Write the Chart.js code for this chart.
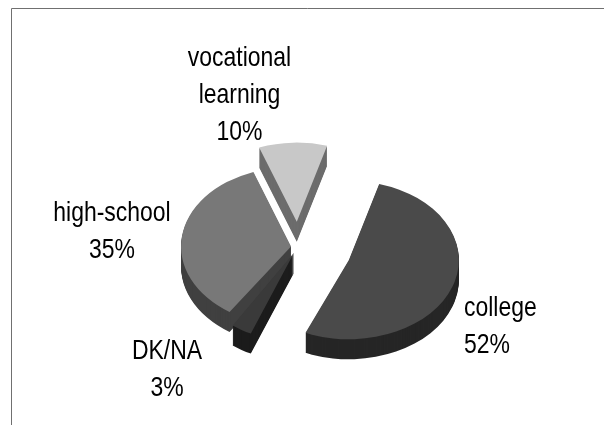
<!DOCTYPE html>
<html>
<head>
<meta charset="utf-8">
<style>html,body{margin:0;padding:0;background:#fff}canvas{display:block}</style>
<script src="https://cdn.jsdelivr.net/npm/chart.js@4"></script>
</head>
<body>
<canvas id="c" width="604" height="425"></canvas>
<script>
const categories = ['college', 'DK/NA', 'high-school', 'vocational learning'];
const values = [52, 3, 35, 10];
const topColors = ['#4a4a4a', '#3a3a3a', '#787878', '#c8c8c8'];
const sideColors = ['#262626', '#1c1c1c', '#404040', '#6c6c6c'];
const explode = [54, 8, 7, 35];

const TILT = [0.72, 0.8, 0.72, 0.72];
const DEPTH = 20;
const DRAW_ORDER = [3, 2, 1, 0];
const FONT = '28px "Liberation Sans", Arial, sans-serif';
const TEXT_SQUEEZE = 0.82;
const LINE_GAP = 37;
const LABELS = [
  {x: 464, y: 316, align: 'left', lines: ['college']},
  {x: 167, y: 359, align: 'center', lines: ['DK/NA']},
  {x: 112, y: 221, align: 'center', lines: ['high-school']},
  {x: 239.5, y: 66, align: 'center', lines: ['vocational', 'learning']}
];

const pie3d = {
  id: 'pie3d',
  beforeDraw(chart) {
    const ctx = chart.ctx;
    ctx.save();
    ctx.strokeStyle = '#707070';
    ctx.lineWidth = 1;
    ctx.beginPath();
    ctx.moveTo(11.5, 425);
    ctx.lineTo(11.5, 8.5);
    ctx.lineTo(604, 8.5);
    ctx.stroke();
    ctx.restore();
  },
  beforeDatasetsDraw(chart) {
    const ctx = chart.ctx;
    const arcs = chart.getDatasetMeta(0).data;
    const shape = (arc, color) => {
      const saved = arc.options;
      arc.options = {
        backgroundColor: color, borderColor: color, borderWidth: 0, borderRadius: 0,
        spacing: 0, circular: true, borderAlign: 'center', offset: 0
      };
      arc.draw(ctx);
      arc.options = saved;
    };
    DRAW_ORDER.forEach(i => {
      const arc = arcs[i];
      const mid = (arc.startAngle + arc.endAngle) / 2;
      const draw = (dy, color) => {
        ctx.save();
        ctx.translate(arc.x, arc.y + dy);
        ctx.scale(1, TILT[i]);
        ctx.translate(Math.cos(mid) * explode[i], Math.sin(mid) * explode[i]);
        ctx.translate(-arc.x, -arc.y);
        shape(arc, color);
        ctx.restore();
      };
      for (let d = DEPTH; d > 0; d--) draw(d, sideColors[i]);
      draw(0, topColors[i]);
    });
    return false;
  },
  afterDraw(chart) {
    const ctx = chart.ctx;
    ctx.save();
    ctx.font = FONT;
    ctx.fillStyle = '#000';
    ctx.textBaseline = 'alphabetic';
    LABELS.forEach((l, i) => {
      ctx.textAlign = l.align;
      const all = l.lines.concat([values[i] + '%']);
      all.forEach((t, k) => {
        ctx.save();
        ctx.translate(l.x, l.y + k * LINE_GAP);
        ctx.scale(TEXT_SQUEEZE, 1);
        ctx.fillText(t, 0, 0);
        ctx.restore();
      });
    });
    ctx.restore();
  }
};

new Chart(document.getElementById('c'), {
  type: 'pie',
  data: {
    labels: categories,
    datasets: [{data: values, backgroundColor: topColors, borderWidth: 0, clip: false}]
  },
  options: {
    responsive: false,
    animation: false,
    rotation: 16,
    radius: 110,
    layout: {padding: {left: 0, right: 8, top: 69, bottom: 0}},
    plugins: {legend: {display: false}, tooltip: {enabled: false}, title: {display: false}}
  },
  plugins: [pie3d]
});
</script>
</body>
</html>
